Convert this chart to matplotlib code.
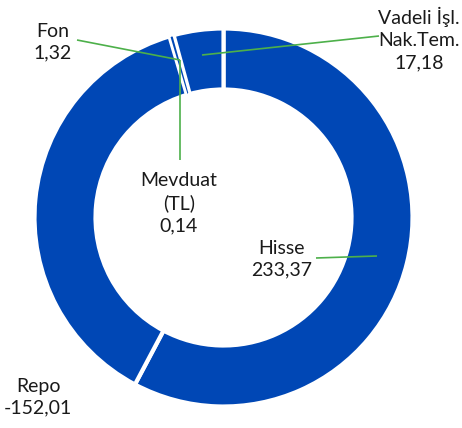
import matplotlib
matplotlib.use("Agg")
import matplotlib.pyplot as plt

# data (values as shown, pie uses absolute size)
labels = ["Hisse", "Repo", "Fon", "Mevduat\n(TL)", "Vadeli İşl.\nNak.Tem."]
values = [233.37, -152.01, 1.32, 0.14, 17.18]
explode = [0.015, 0.0, 0.0, 0.0, 0.025]

blue = "#0047B5"
green = "#4DB04A"

plt.rcParams["font.family"] = ["Lato", "DejaVu Sans"]

W, H = 462, 428
fig = plt.figure(figsize=(W / 100, H / 100), dpi=100)
ax = fig.add_axes([0, 0, 1, 1])
ax.set_xlim(0, W)
ax.set_ylim(0, H)
ax.set_aspect("equal")
ax.axis("off")

sizes = [abs(v) for v in values]
wedges, _ = ax.pie(sizes, startangle=90, counterclock=False,
                   colors=[blue] * len(sizes), explode=explode,
                   radius=189, center=(223.5, H - 217.5),
                   wedgeprops=dict(width=61, edgecolor="white", linewidth=3))
# keep the thin Fon slice visible on top of the neighbour borders
wedges[2].set_zorder(5)
wedges[2].set_linewidth(1.2)
ax.set_xlim(0, W)
ax.set_ylim(0, H)


def fmt(v):
    return f"{v:.2f}".replace(".", ",")


# label positions (pixel coords, y from top)
label_pos = [(282, 259), (38, 397), (53, 42), (179, 203), (419, 39)]
for lab, v, (x, y) in zip(labels, values, label_pos):
    ax.text(x, H - y, lab + "\n" + fmt(v), ha="center", va="center",
            fontsize=14, linespacing=1.35, color="#1a1a1a", zorder=6)

# leader lines
leaders = [
    [(316, 258), (377, 256)],
    [(77, 40), (180, 60)],
    [(180, 60), (180, 160)],
    [(202, 55), (379, 36)],
]
for seg in leaders:
    xs = [p[0] for p in seg]
    ys = [H - p[1] for p in seg]
    ax.plot(xs, ys, color=green, lw=1.2, solid_capstyle="butt", zorder=7)

fig.savefig("out.png", dpi=100)
